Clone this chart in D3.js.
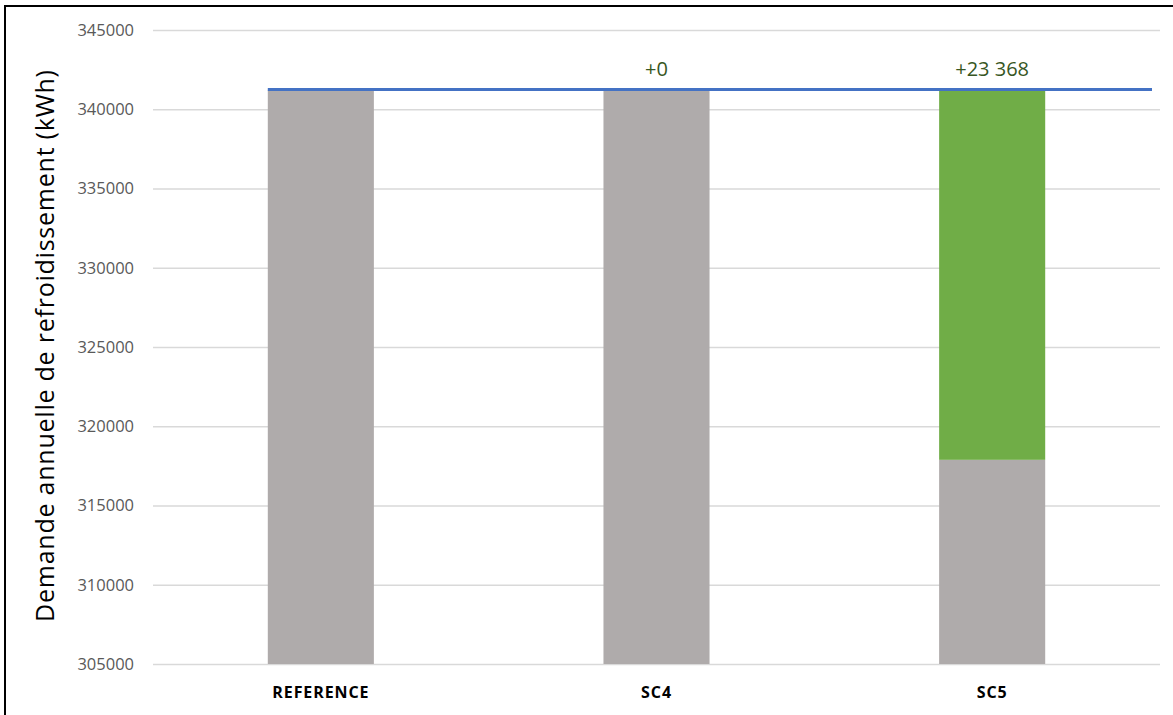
<!DOCTYPE html>
<html><head><meta charset="utf-8">
<script src="https://cdn.jsdelivr.net/npm/d3@7"></script>
<style>
html,body{margin:0;padding:0;background:#fff;}
svg{display:block;}
</style></head>
<body>
<svg id="chart" width="1173" height="715"></svg>
<script>
const categories = ["REFERENCE", "SC4", "SC5"];
const baseValues = [341200, 341200, 317882];
const gainValues = [0, 0, 23368];
const gainLabels = [null, "+0", "+23 368"];
const referenceLine = 341250;
const yTicks = [305000, 310000, 315000, 320000, 325000, 330000, 335000, 340000, 345000];
const yTitle = "Demande annuelle de refroidissement (kWh)";

const svg = d3.select("#chart");
const W = 1173, H = 715;
const m = {left: 153, right: 13, top: 30, bottom: 51};
const x = d3.scaleBand().domain(categories).range([m.left, W - m.right]).padding(0);
const y = d3.scaleLinear().domain([305000, 345000]).range([H - m.bottom, m.top]);
const barW = x.bandwidth() * 0.316;

// outer frame
svg.append("path").attr("d", `M5,${H} L5,6 L${W},6`).attr("fill","none").attr("stroke","#000").attr("stroke-width",2);

// gridlines
const yAxis = d3.axisLeft(y).tickValues(yTicks).tickSize(-(W - m.left - m.right)).tickPadding(20).tickFormat(d3.format("d"));
const gy = svg.append("g").attr("transform", `translate(${m.left},0)`).call(yAxis);
gy.select(".domain").remove();
gy.selectAll(".tick line").attr("stroke", "#D9D9D9").attr("stroke-width", 1.3);
gy.selectAll(".tick text").attr("fill", "#595959").attr("font-family", "'Open Sans', sans-serif").attr("font-size", "16.5px").attr("x", -19);

// bars
const data = categories.map((c, i) => ({c, base: baseValues[i], gain: gainValues[i], label: gainLabels[i]}));
svg.append("g").selectAll("rect.base").data(data).join("rect")
  .attr("x", d => x(d.c) + (x.bandwidth() - barW) / 2)
  .attr("width", barW)
  .attr("y", d => y(d.base))
  .attr("height", d => y(305000) - y(d.base))
  .attr("fill", "#AFABAB");
svg.append("g").selectAll("rect.gain").data(data.filter(d => d.gain > 0)).join("rect")
  .attr("x", d => x(d.c) + (x.bandwidth() - barW) / 2)
  .attr("width", barW)
  .attr("y", d => y(d.base + d.gain))
  .attr("height", d => y(d.base) - y(d.base + d.gain))
  .attr("fill", "#70AD47");

// reference line
const lx0 = x(categories[0]) + (x.bandwidth() - barW) / 2;
const lx1 = x(categories[categories.length - 1]) + x.bandwidth() - 8;
svg.append("line").attr("x1", lx0).attr("x2", lx1)
  .attr("y1", y(referenceLine)).attr("y2", y(referenceLine))
  .attr("stroke", "#4472C4").attr("stroke-width", 3);

// gain labels
svg.append("g").selectAll("text").data(data.filter(d => d.label)).join("text")
  .attr("x", d => x(d.c) + x.bandwidth() / 2)
  .attr("y", 76)
  .attr("text-anchor", "middle")
  .attr("fill", "#375623")
  .attr("font-family", "'Open Sans', sans-serif")
  .attr("font-size", "20px")
  .text(d => d.label);

// category labels
const xAxis = d3.axisBottom(x).tickSize(0).tickPadding(0);
const gx = svg.append("g").attr("transform", `translate(0,${H - m.bottom})`).call(xAxis);
gx.select(".domain").remove();
gx.selectAll(".tick text").attr("y", 28).attr("dy", "0.35em")
  .attr("fill", "#000").attr("font-family", "'Open Sans', sans-serif")
  .attr("font-weight", "bold").attr("font-size", "16px").attr("letter-spacing", "0.9px");

// y title
svg.append("text")
  .attr("transform", `translate(54,${346}) rotate(-90)`)
  .attr("text-anchor", "middle")
  .attr("font-family", "'Open Sans', sans-serif")
  .attr("font-size", "25px")
  .attr("textLength", 552)
  .attr("lengthAdjust", "spacing")
  .attr("fill", "#000")
  .text(yTitle);
</script>
</body></html>
